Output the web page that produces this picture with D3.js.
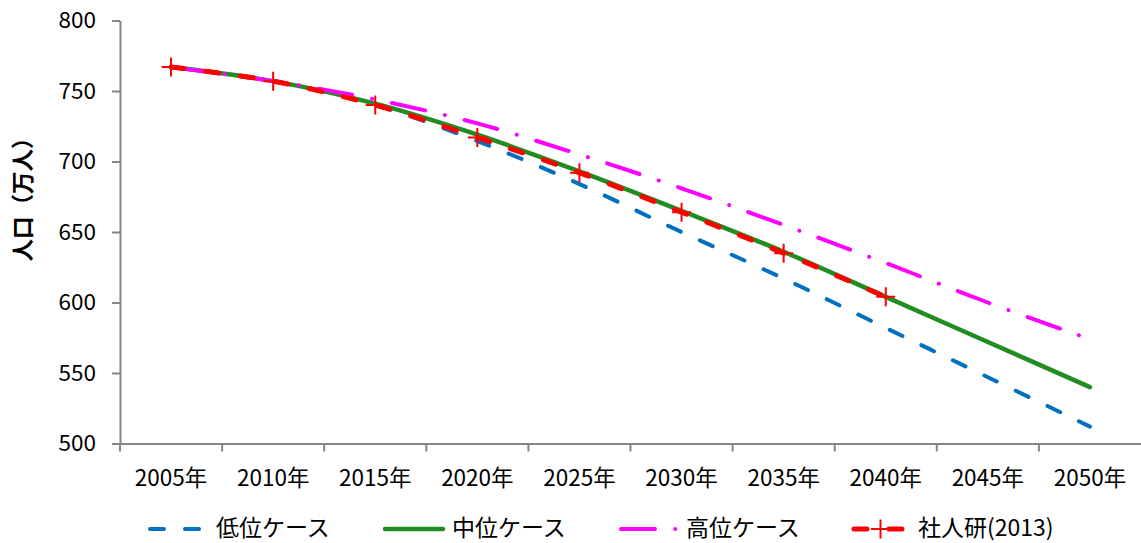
<!DOCTYPE html>
<html>
<head>
<meta charset="utf-8">
<script src="https://cdn.jsdelivr.net/npm/d3@7"></script>
<style>
  html, body { margin: 0; padding: 0; background: #fff; }
  svg { display: block; font-family: "Noto Sans CJK JP", "Noto Sans", sans-serif; }
</style>
</head>
<body>
<svg id="chart" width="1141" height="543"></svg>
<script>
// Population projection (万人), 2005–2050
const years = ["2005年", "2010年", "2015年", "2020年", "2025年", "2030年", "2035年", "2040年", "2045年", "2050年"];
const lowCase  = [767, 757, 740, 714.5, 684, 650, 617, 582, 547, 512];
const midCase  = [767, 757, 741, 719, 693, 665, 636, 604, 572, 540];
const highCase = [767, 757, 744, 727, 705, 681, 655, 628, 600, 574];
const ipss2013 = [767, 757, 740, 717, 692, 664, 635, 604];
const seriesNames = ["低位ケース", "中位ケース", "高位ケース", "社人研(2013)"];
const yTicks = [500, 550, 600, 650, 700, 750, 800];
const yTitle = "人口（万人）";

const svg = d3.select("#chart");
const plot = { left: 120, right: 1141, top: 20.5, bottom: 443.5 };
const axisColor = "#868686";
const fontFamily = "\"Noto Sans CJK JP\", sans-serif";

const x = d3.scaleBand().domain(years).range([plot.left, plot.right]).padding(0);
const y = d3.scaleLinear().domain([500, 800]).range([plot.bottom, plot.top]);
const cx = d => x(d) + x.bandwidth() / 2;

// Y axis
const yAxis = svg.append("g")
  .attr("transform", `translate(${plot.left},0)`)
  .call(d3.axisLeft(y).tickValues(yTicks).tickSizeInner(8).tickSizeOuter(0).tickPadding(16));
yAxis.select(".domain").attr("stroke", axisColor).attr("stroke-width", 2);
yAxis.selectAll(".tick line").attr("stroke", axisColor).attr("stroke-width", 2);
yAxis.selectAll(".tick text").attr("font-size", 22.5).attr("fill", "#000")
  .attr("font-family", fontFamily);

// X axis: labels centred in each category, tick marks at the category boundaries
const xAxis = svg.append("g")
  .attr("transform", `translate(0,${plot.bottom})`)
  .call(d3.axisBottom(x).tickSizeInner(0).tickSizeOuter(0).tickPadding(27));
xAxis.select(".domain").attr("stroke", axisColor).attr("stroke-width", 2);
xAxis.selectAll(".tick text").attr("font-size", 22.5).attr("fill", "#000")
  .attr("font-family", fontFamily);
xAxis.selectAll("line.boundary")
  .data(years)
  .join("line")
  .attr("class", "boundary")
  .attr("x1", d => x(d)).attr("x2", d => x(d))
  .attr("y1", 0).attr("y2", 8)
  .attr("stroke", axisColor).attr("stroke-width", 2);

// Y axis title
svg.append("text")
  .attr("transform", "translate(21,194) rotate(-90)")
  .attr("text-anchor", "middle")
  .attr("dominant-baseline", "central")
  .attr("font-size", 22.5)
  .attr("font-weight", "bold")
  .attr("font-family", fontFamily)
  .text(yTitle);

// Series styles
const styles = [
  { values: lowCase,  color: "#0070C0", width: 4, dash: "14,21" },
  { values: midCase,  color: "#228B22", width: 4.5, dash: null },
  { values: highCase, color: "#FF00FF", width: 4, dash: "34,20.3,0.01,20.3" },
  { values: ipss2013, color: "#FF0000", width: 5, dash: "13,22" }
];

const line = d3.line()
  .x((d, i) => cx(years[i]))
  .y(d => y(d))
  .curve(d3.curveCardinal.tension(0));

const lines = svg.append("g").attr("fill", "none").attr("stroke-linecap", "round");
styles.forEach(s => {
  lines.append("path")
    .datum(s.values)
    .attr("d", line)
    .attr("stroke", s.color)
    .attr("stroke-width", s.width)
    .attr("stroke-dasharray", s.dash);
});

// Cross markers on the 社人研 series
const markerSize = 19;
const crossPath = (px, py) => `M${px - markerSize / 2},${py}H${px + markerSize / 2}M${px},${py - markerSize / 2}V${py + markerSize / 2}`;
svg.append("g")
  .selectAll("path")
  .data(ipss2013)
  .join("path")
  .attr("d", (d, i) => crossPath(cx(years[i]), y(d)))
  .attr("stroke", "#FF0000")
  .attr("stroke-width", 2)
  .attr("fill", "none");

// Legend
const legendY = 529;
const legendItems = [
  { x0: 150, x1: 200, tx: 216 },
  { x0: 385, x1: 443, tx: 452 },
  { x0: 621, x1: 676, tx: 686 },
  { x0: 854, x1: 903, tx: 918 }
];
const legend = svg.append("g");
legendItems.forEach((it, i) => {
  const s = styles[i];
  legend.append("line")
    .attr("x1", it.x0).attr("x2", it.x1)
    .attr("y1", legendY).attr("y2", legendY)
    .attr("stroke", s.color)
    .attr("stroke-width", s.width)
    .attr("stroke-linecap", "round")
    .attr("stroke-dasharray", s.dash);
  if (i === 3) {
    legend.append("path")
      .attr("d", crossPath((it.x0 + it.x1) / 2 + 2, legendY))
      .attr("stroke", "#FF0000").attr("stroke-width", 2).attr("fill", "none");
  }
  legend.append("text")
    .attr("x", it.tx).attr("y", legendY + 7)
    .attr("font-size", 23)
    .attr("font-family", fontFamily)
    .text(seriesNames[i]);
});
</script>
</body>
</html>
